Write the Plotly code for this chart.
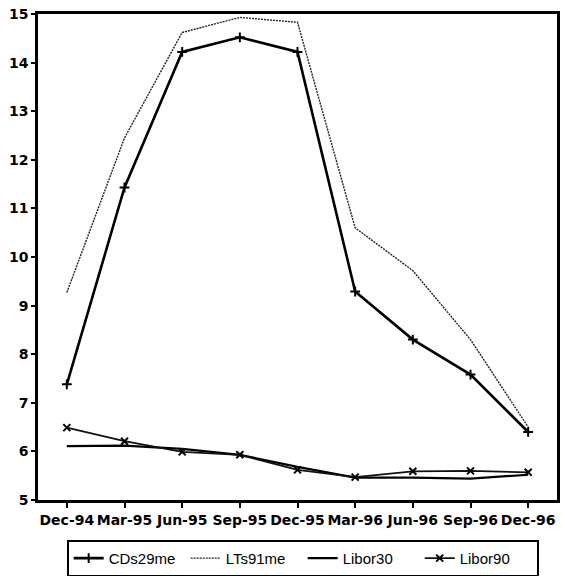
import plotly.graph_objects as go

dates = ["Dec-94", "Mar-95", "Jun-95", "Sep-95", "Dec-95", "Mar-96", "Jun-96", "Sep-96", "Dec-96"]
cds29me = [7.38, 11.43, 14.22, 14.52, 14.22, 9.29, 8.30, 7.58, 6.40]
lts91me = [9.27, 12.45, 14.62, 14.93, 14.83, 10.6, 9.72, 8.3, 6.5]
libor30 = [6.11, 6.12, 6.05, 5.93, 5.68, 5.46, 5.46, 5.44, 5.52]
libor90 = [6.49, 6.21, 5.99, 5.93, 5.62, 5.47, 5.59, 5.6, 5.57]
yticks = [5, 6, 7, 8, 9, 10, 11, 12, 13, 14, 15]

fig = go.Figure()
fig.add_trace(go.Scatter(x=dates, y=cds29me, name="CDs29me", mode="lines+markers",
                         line=dict(color="black", width=2.6),
                         marker=dict(symbol="cross-thin", size=7, line=dict(color="black", width=2))))
fig.add_trace(go.Scatter(x=dates, y=lts91me, name="LTs91me", mode="lines",
                         line=dict(color="#222222", width=1.4, dash="2px,1px")))
fig.add_trace(go.Scatter(x=dates, y=libor30, name="Libor30", mode="lines",
                         line=dict(color="black", width=2.2)))
fig.add_trace(go.Scatter(x=dates, y=libor90, name="Libor90", mode="lines+markers",
                         line=dict(color="#111111", width=1.8),
                         marker=dict(symbol="x-thin", size=7, line=dict(color="black", width=2))))

fig.update_layout(
    width=565, height=576,
    margin=dict(l=38, r=8, t=14, b=76, autoexpand=False),
    paper_bgcolor="white", plot_bgcolor="white",
    font=dict(family="Liberation Sans, Arial, sans-serif", color="black"),
    showlegend=True,
    legend=dict(orientation="h", x=0.51, xanchor="center", y=-0.082, yanchor="top",
                bordercolor="black", borderwidth=2, font=dict(size=15),
                entrywidth=72, entrywidthmode="pixels", tracegroupgap=0),
)
fig.update_xaxes(type="category", range=[-0.5, 8.5], showgrid=False, automargin=False,
                 showline=True, linecolor="black", linewidth=2.5, mirror=True,
                 ticks="outside", ticklen=5, tickwidth=2, tickcolor="black", tickangle=0,
                 ticklabeloverflow="allow",
                 tickfont=dict(size=14, family="DejaVu Sans", weight="bold"))
fig.update_yaxes(range=[5, 15], tickvals=yticks, showgrid=False, zeroline=False, automargin=False,
                 showline=True, linecolor="black", linewidth=2.5, mirror=True,
                 ticks="outside", ticklen=4, tickwidth=2, tickcolor="black",
                 ticklabeloverflow="allow",
                 tickfont=dict(size=14, family="DejaVu Sans", weight="bold"))

# remove the default page margin so the 565x576 figure fills the window exactly
fig.write_html("out.html", config={"displayModeBar": False},
               post_script="document.body.style.margin='0px';")
